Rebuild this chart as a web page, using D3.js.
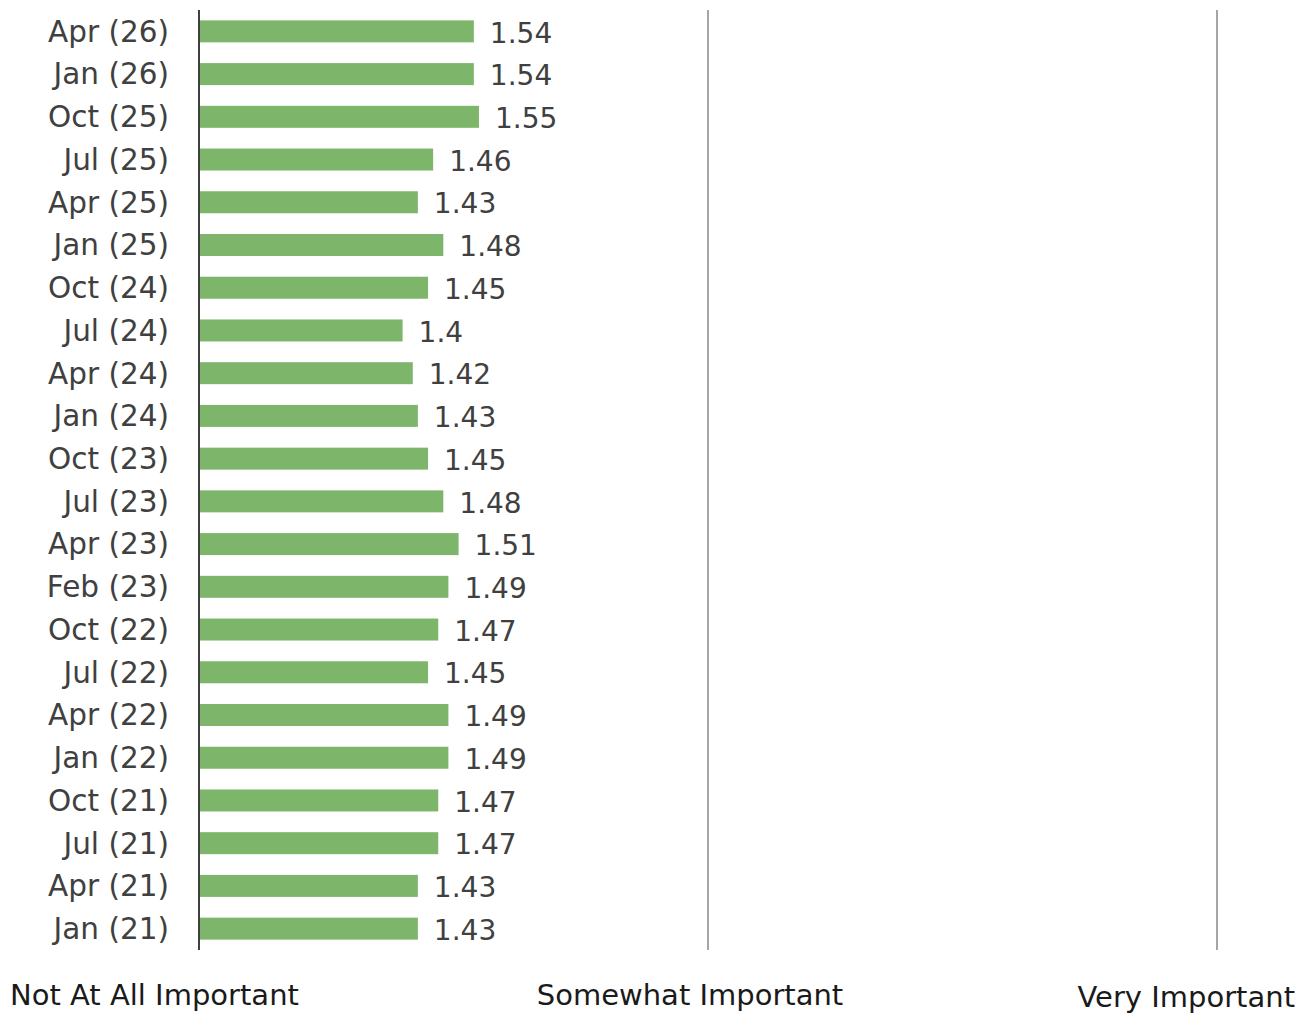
<!DOCTYPE html>
<html>
<head>
<meta charset="utf-8">
<script src="https://cdn.jsdelivr.net/npm/d3@7"></script>
<style>
  html, body { margin: 0; padding: 0; background: #fff; }
  svg { display: block; font-family: "DejaVu Sans", Verdana, sans-serif; }
</style>
</head>
<body>
<svg id="chart" width="1298" height="1015"></svg>
<script>
// Survey periods, most recent first
const periods = [
  "Apr (26)", "Jan (26)", "Oct (25)", "Jul (25)", "Apr (25)", "Jan (25)",
  "Oct (24)", "Jul (24)", "Apr (24)", "Jan (24)", "Oct (23)", "Jul (23)",
  "Apr (23)", "Feb (23)", "Oct (22)", "Jul (22)", "Apr (22)", "Jan (22)",
  "Oct (21)", "Jul (21)", "Apr (21)", "Jan (21)"
];

// Mean importance score per period (1 = not at all, 3 = very important)
const scores = [
  1.54, 1.54, 1.55, 1.46, 1.43, 1.48,
  1.45, 1.4, 1.42, 1.43, 1.45, 1.48,
  1.51, 1.49, 1.47, 1.45, 1.49, 1.49,
  1.47, 1.47, 1.43, 1.43
];

// Scale anchors and their captions
const scaleTicks = [1, 2, 3];
const scaleLabels = ["Not At All Important", "Somewhat Important", "Very Important"];

const rows = periods.map((p, i) => ({ period: p, score: scores[i] }));

const svg = d3.select("#chart");
const plotTop = 10, plotBottom = 950;

const x = d3.scaleLinear().domain([1, 3]).range([199, 1217]);
const y = d3.scaleBand()
  .domain(periods)
  .range([plotTop, plotBottom])
  .paddingInner(0.485)
  .paddingOuter(0.2425);

// Vertical reference lines at "somewhat" and "very"
svg.append("g")
  .selectAll("line")
  .data(scaleTicks.slice(1))
  .join("line")
  .attr("x1", d => x(d)).attr("x2", d => x(d))
  .attr("y1", plotTop).attr("y2", plotBottom)
  .attr("stroke", "#a6a6a6")
  .attr("stroke-width", 2);

// Bars
svg.append("g")
  .selectAll("rect")
  .data(rows)
  .join("rect")
  .attr("x", x(1))
  .attr("y", d => y(d.period))
  .attr("width", d => x(d.score) - x(1))
  .attr("height", y.bandwidth())
  .attr("fill", "#7db66a");

// Baseline axis
svg.append("line")
  .attr("x1", x(1)).attr("x2", x(1))
  .attr("y1", plotTop).attr("y2", plotBottom)
  .attr("stroke", "#404040")
  .attr("stroke-width", 2);

// Period labels
svg.append("g")
  .selectAll("text")
  .data(rows)
  .join("text")
  .attr("x", x(1) - 30)
  .attr("y", d => y(d.period) + y.bandwidth() / 2)
  .attr("dy", "0.35em")
  .attr("text-anchor", "end")
  .attr("font-size", 29.5)
  .attr("fill", "#404040")
  .text(d => d.period);

// Value labels
svg.append("g")
  .selectAll("text")
  .data(rows)
  .join("text")
  .attr("x", d => x(d.score) + 16)
  .attr("y", d => y(d.period) + y.bandwidth() / 2)
  .attr("dy", "0.4em")
  .attr("font-size", 28)
  .attr("fill", "#404040")
  .text(d => String(d.score));

// Scale captions beneath the plot
const captionPos = [
  { x: 10, anchor: "start", y: 995 },
  { x: 690, anchor: "middle", y: 995 },
  { x: 1295, anchor: "end", y: 997 }
];
svg.append("g")
  .selectAll("text")
  .data(scaleLabels)
  .join("text")
  .attr("x", (d, i) => captionPos[i].x)
  .attr("y", (d, i) => captionPos[i].y)
  .attr("dy", "0.35em")
  .attr("text-anchor", (d, i) => captionPos[i].anchor)
  .attr("font-size", 29)
  .attr("fill", "#1a1a1a")
  .text(d => d);
</script>
</body>
</html>
